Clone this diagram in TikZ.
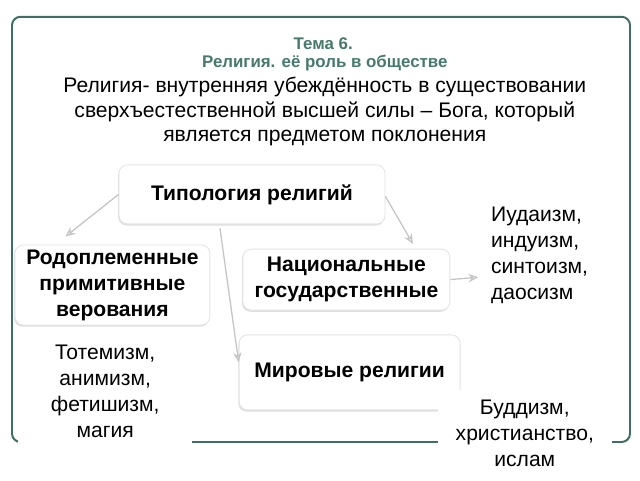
\documentclass[tikz,border=0pt]{standalone}
\usepackage{fontspec}
\setmainfont{Liberation Sans}
\usetikzlibrary{arrows.meta,shadows,calc}
\definecolor{framegreen}{HTML}{3F6E62}
\definecolor{headgreen}{HTML}{467A6C}
\definecolor{arrowgray}{HTML}{C4C4C4}
\tikzset{
    typebox/.style={draw=gray!22, fill=white, rounded corners=6pt, line width=.6pt,
        drop shadow={shadow xshift=-.6pt, shadow yshift=-1.2pt, opacity=.25, fill=gray},
        font=\fontsize{15}{18.5}\selectfont\bfseries, align=center, inner sep=0pt},
    listtext/.style={font=\fontsize{15}{18.5}\selectfont, inner sep=0pt},
    cover/.style={listtext, fill=white, align=center},
    link/.style={arrowgray, line width=.9pt, -{Stealth[open, length=7pt, width=6pt]}}
}
\begin{document}
\begin{tikzpicture}[y=-1cm]
\useasboundingbox (0,0) rectangle (16,12);
\draw[framegreen, line width=1.4pt, rounded corners=6pt](.3,.42) rectangle (15.75,11.05);

\node[headgreen, font=\fontsize{12}{14}\selectfont\bfseries] (tema) at (8.08,1.1){Тема 6.};
\node[headgreen, font=\fontsize{12}{14}\selectfont\bfseries] (sub) at (8.12,1.57){Религия. её роль в обществе};
\node[font=\fontsize{15}{17.5}\selectfont, align=center, inner sep=0pt] (def) at (8.12,2.79)
    {Религия- внутренняя убеждённость в существовании\\
     сверхъестественной высшей силы -- Бога, который\\
     является предметом поклонения};

\node[typebox, minimum width=6.65cm, minimum height=1.475cm] (typ) at (6.3,4.86){Типология религий};
\node[typebox, minimum width=4.875cm, minimum height=2cm] (rod) at (2.81,7.125)
    {Родоплеменные\\примитивные\\верования};
\node[typebox, minimum width=5.175cm, minimum height=1.525cm] (nat) at (8.66,6.99)
    {Национальные\\государственные};
\node[typebox, minimum width=5.525cm, minimum height=1.875cm] (mir) at (8.74,9.31){Мировые религии};

\node[listtext, anchor=west, align=left] (ind) at (12.27,6.39)
    {Иудаизм,\\индуизм,\\синтоизм,\\даосизм};

\draw[link](typ.west)--($(rod.north west)!.26!(rod.north east)+(0,-.2)$);
\draw[link]($(typ.east)+(0,.05)$)--($(nat.north west)!.82!(nat.north east)+(0,-.12)$);
\draw[link]($(typ.south west)!.38!(typ.south east)+(0,.1)$)--($(mir.west)+(0,-.25)$);
\draw[link](nat.east)--++(.7,-.06);

\node[cover, minimum width=4.35cm, minimum height=2.85cm] (tot) at (2.63,9.78)
    {Тотемизм,\\анимизм,\\фетишизм,\\магия};
\node[cover, minimum width=4.35cm, minimum height=2.15cm] (bud) at (13.12,10.83)
    {Буддизм,\\христианство,\\ислам};
\end{tikzpicture}
\end{document}
